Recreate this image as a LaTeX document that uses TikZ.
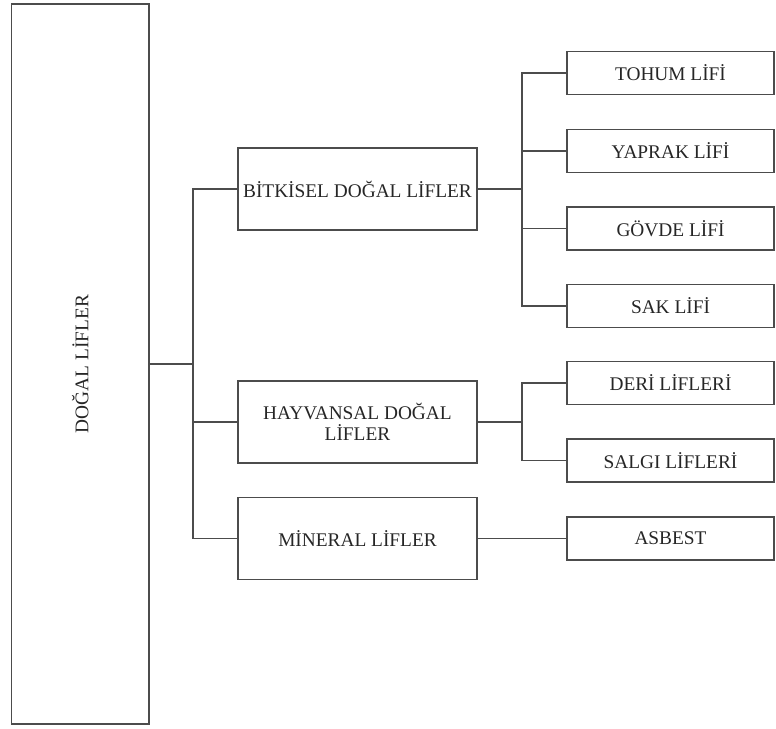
\documentclass[tikz,border=0pt]{standalone}
\usepackage{fontspec}
\setmainfont{Liberation Serif}
\usetikzlibrary{calc}

\begin{document}
\begin{tikzpicture}[x=0.75pt, y=-0.75pt, draw=black!70, text=black!85,
    font=\fontsize{14.5}{15.5}\selectfont,
    big/.style = {draw, line width=1pt, inner sep=0pt, minimum width=103.1pt, minimum height=540pt},
    mid/.style = {draw, line width=1pt, inner sep=0pt, minimum width=179.25pt, minimum height=61.5pt, align=center},
    leaf/.style = {draw, line width=1pt, inner sep=0pt, minimum width=155.25pt, minimum height=32.25pt},
    thinline/.style = {line width=0.6pt},
    midline/.style = {line width=0.9pt},
    heavyline/.style = {line width=1.5pt}]
        \useasboundingbox (0,0) rectangle (776,729);
            % main box
            \node[big] (dogal) at (80.25,364) {};
            \node[rotate=90] (dogaltxt) at (dogal) {DOĞAL LİFLER};
            % second level
            \node[mid] (bitki) at (357.5,189) {BİTKİSEL DOĞAL LİFLER};
            \node[mid] (hayvan) at (357.5,422) {HAYVANSAL DOĞAL\\LİFLER};
            \node[mid] (miner) at (357.5,538.5) {MİNERAL LİFLER};
            % leaves
            \node[leaf] (tohum) at (670.5,73) {TOHUM LİFİ};
            \node[leaf] (yaprak) at (670.5,151) {YAPRAK LİFİ};
            \node[leaf] (govde) at (670.5,228.5) {GÖVDE LİFİ};
            \node[leaf] (sak) at (670.5,306) {SAK LİFİ};
            \node[leaf] (deri) at (670.5,383) {DERİ LİFLERİ};
            \node[leaf] (salgi) at (670.5,460.5) {SALGI LİFLERİ};
            \node[leaf] (asbest) at (670.5,538.5) {ASBEST};
            % branch points
            \coordinate (jmain) at (193,364);
            \coordinate (jbit) at (522,189);
            \coordinate (jhay) at (522,422);
            % connectors
            \draw[heavyline] (dogal.east) -- (jmain);
            \draw[midline] (bitki.west) -| (jmain) |- (miner.west);
            \draw[midline] (jmain) |- (hayvan.west);
            \draw[heavyline] (bitki.east) -- (jbit);
            \draw[midline] (tohum.west) -| (jbit) |- (sak.west);
            \draw[midline] (jbit) |- (yaprak.west);
            \draw[midline] (jbit) |- (govde.west);
            \draw[midline] (hayvan.east) -- (jhay);
            \draw[midline] (deri.west) -| (jhay) |- (salgi.west);
            \draw[thinline] (miner.east) -- (asbest.west);
\end{tikzpicture}
\end{document}
